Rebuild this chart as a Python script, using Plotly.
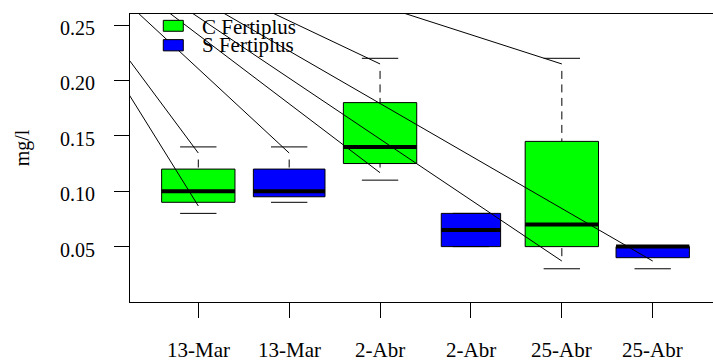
import plotly.graph_objects as go

# ---- data ----
categories = ["13-Mar", "13-Mar", "2-Abr", "2-Abr", "25-Abr", "25-Abr"]
groups = ["C Fertiplus", "S Fertiplus", "C Fertiplus", "S Fertiplus", "C Fertiplus", "S Fertiplus"]
positions = [1, 2, 3, 4, 5, 6]
lower = [0.08, 0.09, 0.11, 0.05, 0.03, 0.03]
q1 = [0.09, 0.095, 0.125, 0.05, 0.05, 0.04]
median = [0.10, 0.10, 0.14, 0.065, 0.07, 0.05]
q3 = [0.12, 0.12, 0.18, 0.08, 0.145, 0.05]
upper = [0.14, 0.14, 0.22, 0.08, 0.22, 0.05]
box_widths = [0.807, 0.788, 0.807, 0.653, 0.807, 0.807]
group_colors = {"C Fertiplus": "#00ff00", "S Fertiplus": "#0000ff"}
y_ticks = [0.05, 0.10, 0.15, 0.20, 0.25]
y_ticktext = ["0.05", "0.10", "0.15", "0.20", "0.25"]

# leader lines (from a common off-plot origin to points near whisker ends)
guide_x = [1, 1, 2, 3, 3, 5, 5, 6]
guide_y = [0.1345, 0.0867, 0.1345, 0.2149, 0.1167, 0.2149, 0.037, 0.037]
guide_origin_x = -1.215
guide_origin_y = 0.379

cap_width = 0.4
FONT = "Liberation Serif"

fig = go.Figure()

# boxes
fig.add_trace(go.Bar(
    x=positions,
    y=[b - a for a, b in zip(q1, q3)],
    base=q1,
    width=box_widths,
    marker=dict(color=[group_colors[g] for g in groups],
                line=dict(color="black", width=1)),
    hoverinfo="skip",
))

# whiskers (dashed, from cap to box edge)
dash_pattern = "0px,12.6px," + ",".join(["8px,5.5px"] * 8)
for c, lo, a, b, hi in zip(positions, lower, q1, q3, upper):
    for y0, y1 in ((hi, b), (lo, a)):
        fig.add_trace(go.Scatter(
            x=[c, c], y=[y0, y1], mode="lines",
            line=dict(color="black", width=1, dash=dash_pattern),
            hoverinfo="skip"))

# caps
cx, cy = [], []
for c, lo, hi in zip(positions, lower, upper):
    for v in (lo, hi):
        cx += [c - cap_width / 2, c + cap_width / 2, None]
        cy += [v, v, None]
fig.add_trace(go.Scatter(x=cx, y=cy, mode="lines",
                         line=dict(color="black", width=1), hoverinfo="skip"))

# medians
mx, my = [], []
for c, m, w in zip(positions, median, box_widths):
    mx += [c - w / 2, c + w / 2, None]
    my += [m, m, None]
fig.add_trace(go.Scatter(x=mx, y=my, mode="lines",
                         line=dict(color="black", width=4), hoverinfo="skip"))

# leader lines
for gx, gy in zip(guide_x, guide_y):
    fig.add_trace(go.Scatter(
        x=[guide_origin_x, gx], y=[guide_origin_y, gy], mode="lines",
        line=dict(color="black", width=1), hoverinfo="skip"))

# manual legend
legend_items = ["C Fertiplus", "S Fertiplus"]
sw_y = [(0.978, 0.940), (0.911, 0.872)]
txt_y = [0.955, 0.893]
for name, (ya, yb), ty in zip(legend_items, sw_y, txt_y):
    fig.add_shape(type="rect", xref="paper", yref="paper",
                  x0=0.0571, x1=0.0914, y0=yb, y1=ya,
                  fillcolor=group_colors[name], line=dict(color="black", width=1))
    fig.add_annotation(xref="paper", yref="paper", x=0.120, y=ty,
                       xanchor="left", yanchor="middle", showarrow=False,
                       text=name, font=dict(family=FONT, size=21, color="black"))

# tick labels (serif, as in the reference)
for p, lab in zip(positions, categories):
    fig.add_annotation(xref="x", yref="paper", x=p, y=-0.166,
                       xanchor="center", yanchor="middle", showarrow=False,
                       text=lab, font=dict(family=FONT, size=21, color="black"))
for v, lab in zip(y_ticks, y_ticktext):
    fig.add_annotation(xref="paper", yref="y", x=-0.0571, y=v,
                       xanchor="right", yanchor="middle", showarrow=False,
                       yshift=-3, text=lab,
                       font=dict(family=FONT, size=20, color="black"))

# y axis title
fig.add_annotation(xref="paper", yref="paper", x=-0.185, y=0.534,
                   xanchor="center", yanchor="middle", showarrow=False,
                   text="mg/l", textangle=-90,
                   font=dict(family=FONT, size=20, color="black"))

fig.update_layout(
    width=713, height=362,
    margin=dict(l=130, r=0, t=14, b=60),
    font=dict(family=FONT, color="black"),
    plot_bgcolor="white", paper_bgcolor="white",
    showlegend=False, barmode="overlay",
    xaxis=dict(range=[0.2485, 6.6634], tickmode="array", tickvals=positions,
               showticklabels=False, ticks="outside", ticklen=15, tickwidth=1,
               tickcolor="black", showline=True, linecolor="black", linewidth=1,
               mirror=True, showgrid=False, zeroline=False),
    yaxis=dict(range=[0, 0.26], tickmode="array", tickvals=y_ticks,
               showticklabels=False, ticks="outside", ticklen=15, tickwidth=1,
               tickcolor="black", showline=True, linecolor="black", linewidth=1,
               showgrid=False, zeroline=False),
)

fig.write_html("out.html")
